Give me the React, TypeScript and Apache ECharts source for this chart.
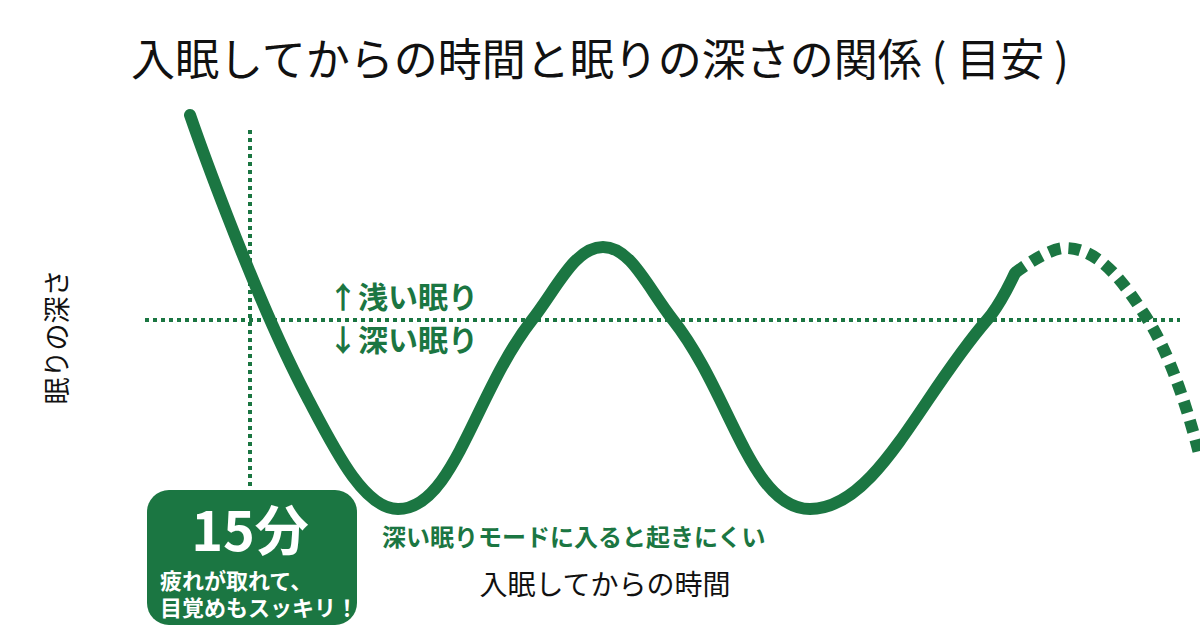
import React, { useEffect, useRef } from "react";
import * as echarts from "echarts";

// 入眠からの経過時間（分）と眠りの深さ（0 = 浅い／深いの境目、正の値ほど深い）
const solidMinutes = [0, 29.25, 52, 85.5, 103.25, 120.75, 155, 199.25, 206.25];
const solidDepth = [-4.1, 1.54, 3.78, 0, -1.46, 0, 3.78, 0, -0.94];

const dashedMinutes = [206.25, 218.75, 239.5, 252.5];
const dashedDepth = [-0.94, -1.44, 0, 2.75];

const thresholdMinutes = [-11.25, 247.5];
const markerMinute = 15;
const markerDepthRange = [-3.8, 3.4];

const GREEN = "#1b7642";
const FONT = "'Noto Sans CJK JP', 'Noto Sans', sans-serif";

const App: React.FC = () => {
  const chartRef = useRef<HTMLDivElement>(null);

  useEffect(() => {
    if (!chartRef.current) return;
    const chart = echarts.init(chartRef.current, null, { renderer: "svg" });

    const option: echarts.EChartsOption = {
      animation: false,
      backgroundColor: "#ffffff",
      textStyle: { fontFamily: FONT },
      title: {
        text: "入眠してからの時間と眠りの深さの関係 ( 目安 )",
        left: "center",
        top: 30,
        textStyle: { fontSize: 44, fontWeight: "normal", color: "#111111", fontFamily: FONT },
      },
      grid: { left: 145, right: 0, top: 110, bottom: 60 },
      xAxis: {
        type: "value",
        min: -11.25,
        max: 252.5,
        show: false,
      },
      yAxis: {
        type: "value",
        min: -4.2,
        max: 5,
        inverse: true,
        show: false,
      },
      series: [
        {
          type: "line",
          data: thresholdMinutes.map((m) => [m, 0]),
          showSymbol: false,
          clip: false,
          lineStyle: { color: GREEN, width: 4, type: [4, 4] },
          z: 1,
        },
        {
          type: "line",
          data: markerDepthRange.map((d) => [markerMinute, d]),
          showSymbol: false,
          clip: false,
          lineStyle: { color: GREEN, width: 4, type: [4, 4] },
          z: 1,
        },
        {
          type: "line",
          data: solidMinutes.map((m, i) => [m, solidDepth[i]]),
          smooth: 0.4,
          showSymbol: false,
          clip: false,
          lineStyle: { color: GREEN, width: 12, cap: "round" },
          z: 3,
        },
        {
          type: "line",
          data: dashedMinutes.map((m, i) => [m, dashedDepth[i]]),
          smooth: 0.4,
          showSymbol: false,
          clip: false,
          lineStyle: { color: GREEN, width: 12, type: [12, 8], cap: "butt" },
          z: 3,
        },
      ],
      graphic: [
        {
          type: "text",
          x: 55,
          y: 337,
          rotation: Math.PI / 2,
          style: {
            text: "眠りの深さ",
            fill: "#111111",
            font: `normal 27px ${FONT}`,
            align: "center",
            verticalAlign: "middle",
          },
        },
        {
          type: "text",
          x: 605,
          y: 583,
          style: {
            text: "入眠してからの時間",
            fill: "#111111",
            font: `normal 28px ${FONT}`,
            align: "center",
            verticalAlign: "middle",
          },
        },
        {
          type: "text",
          x: 328,
          y: 295,
          style: {
            text: "↑浅い眠り",
            fill: GREEN,
            font: `bold 30px ${FONT}`,
            align: "left",
            verticalAlign: "middle",
          },
        },
        {
          type: "text",
          x: 328,
          y: 338,
          style: {
            text: "↓深い眠り",
            fill: GREEN,
            font: `bold 30px ${FONT}`,
            align: "left",
            verticalAlign: "middle",
          },
        },
        {
          type: "text",
          x: 382,
          y: 535,
          style: {
            text: "深い眠りモードに入ると起きにくい",
            fill: GREEN,
            font: `bold 24px ${FONT}`,
            align: "left",
            verticalAlign: "middle",
          },
        },
        {
          type: "rect",
          shape: { x: 147, y: 490, width: 210, height: 135, r: 22 },
          style: { fill: GREEN },
          z: 10,
        },
        {
          type: "text",
          x: 250,
          y: 527,
          z: 11,
          style: {
            text: "15分",
            fill: "#ffffff",
            font: `bold 54px ${FONT}`,
            align: "center",
            verticalAlign: "middle",
          },
        },
        {
          type: "text",
          x: 160,
          y: 579,
          z: 11,
          style: {
            text: "疲れが取れて、",
            fill: "#ffffff",
            font: `bold 22px ${FONT}`,
            align: "left",
            verticalAlign: "middle",
          },
        },
        {
          type: "text",
          x: 160,
          y: 606,
          z: 11,
          style: {
            text: "目覚めもスッキリ！",
            fill: "#ffffff",
            font: `bold 22px ${FONT}`,
            align: "left",
            verticalAlign: "middle",
          },
        },
      ],
    };

    chart.setOption(option);

    return () => {
      chart.dispose();
    };
  }, []);

  return (
    <div
      ref={chartRef}
      style={{ position: "fixed", left: 0, top: 0, width: "1200px", height: "630px" }}
    />
  );
};

export default App;
